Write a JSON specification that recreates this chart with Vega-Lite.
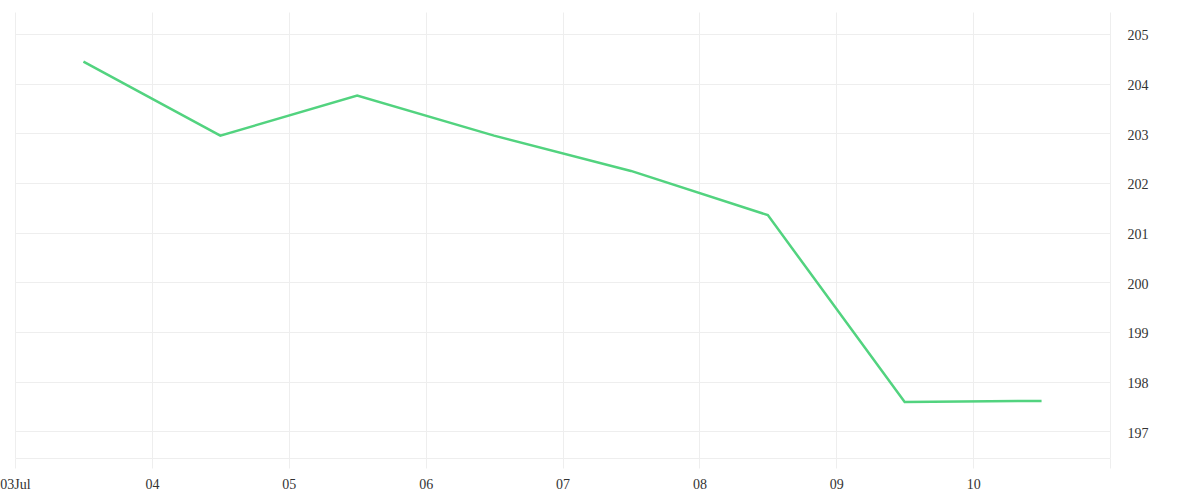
{
  "$schema": "https://vega.github.io/schema/vega-lite/v6.json",
  "width": 1095,
  "height": 446,
  "autosize": {"type": "none"},
  "padding": {"left": 15, "top": 12, "right": 90, "bottom": 42},
  "background": "white",
  "data": {
    "values": [
      {"time": "2023-07-03T12:00:00Z", "price": 204.44},
      {"time": "2023-07-04T12:00:00Z", "price": 202.95},
      {"time": "2023-07-05T12:00:00Z", "price": 203.76},
      {"time": "2023-07-06T12:00:00Z", "price": 202.95},
      {"time": "2023-07-07T12:00:00Z", "price": 202.24},
      {"time": "2023-07-08T12:00:00Z", "price": 201.35},
      {"time": "2023-07-09T12:00:00Z", "price": 197.59},
      {"time": "2023-07-10T12:00:00Z", "price": 197.61}
    ]
  },
  "mark": {"type": "line", "color": "#52d37f", "strokeWidth": 2.5},
  "encoding": {
    "x": {
      "field": "time",
      "type": "temporal",
      "title": null,
      "scale": {
        "type": "utc",
        "domain": [
          {"year": 2023, "month": 7, "date": 3, "utc": true},
          {"year": 2023, "month": 7, "date": 11, "utc": true}
        ]
      },
      "axis": {
        "values": [
          {"year": 2023, "month": 7, "date": 3, "utc": true},
          {"year": 2023, "month": 7, "date": 4, "utc": true},
          {"year": 2023, "month": 7, "date": 5, "utc": true},
          {"year": 2023, "month": 7, "date": 6, "utc": true},
          {"year": 2023, "month": 7, "date": 7, "utc": true},
          {"year": 2023, "month": 7, "date": 8, "utc": true},
          {"year": 2023, "month": 7, "date": 9, "utc": true},
          {"year": 2023, "month": 7, "date": 10, "utc": true},
          {"year": 2023, "month": 7, "date": 11, "utc": true}
        ],
        "labelExpr": "datum.index == 0 ? utcFormat(datum.value, '%dJul') : (datum.index == 1 ? '' : utcFormat(datum.value, '%d'))",
        "grid": true,
        "gridColor": "#eeeeee",
        "domainColor": "#eeeeee",
        "tickColor": "#eeeeee",
        "tickSize": 10,
        "labelPadding": 9,
        "labelFlush": false,
        "labelOverlap": false
      }
    },
    "y": {
      "field": "price",
      "type": "quantitative",
      "title": null,
      "scale": {"domain": [196.46, 205.44], "nice": false, "zero": false},
      "axis": {
        "orient": "right",
        "values": [197, 198, 199, 200, 201, 202, 203, 204, 205],
        "grid": true,
        "gridColor": "#eeeeee",
        "domain": false,
        "ticks": false,
        "labelPadding": 17,
        "labelOffset": 2
      }
    }
  },
  "config": {
    "view": {"stroke": null},
    "axis": {
      "labelFont": "Liberation Serif",
      "labelFontSize": 14,
      "labelColor": "#333333"
    }
  }
}
